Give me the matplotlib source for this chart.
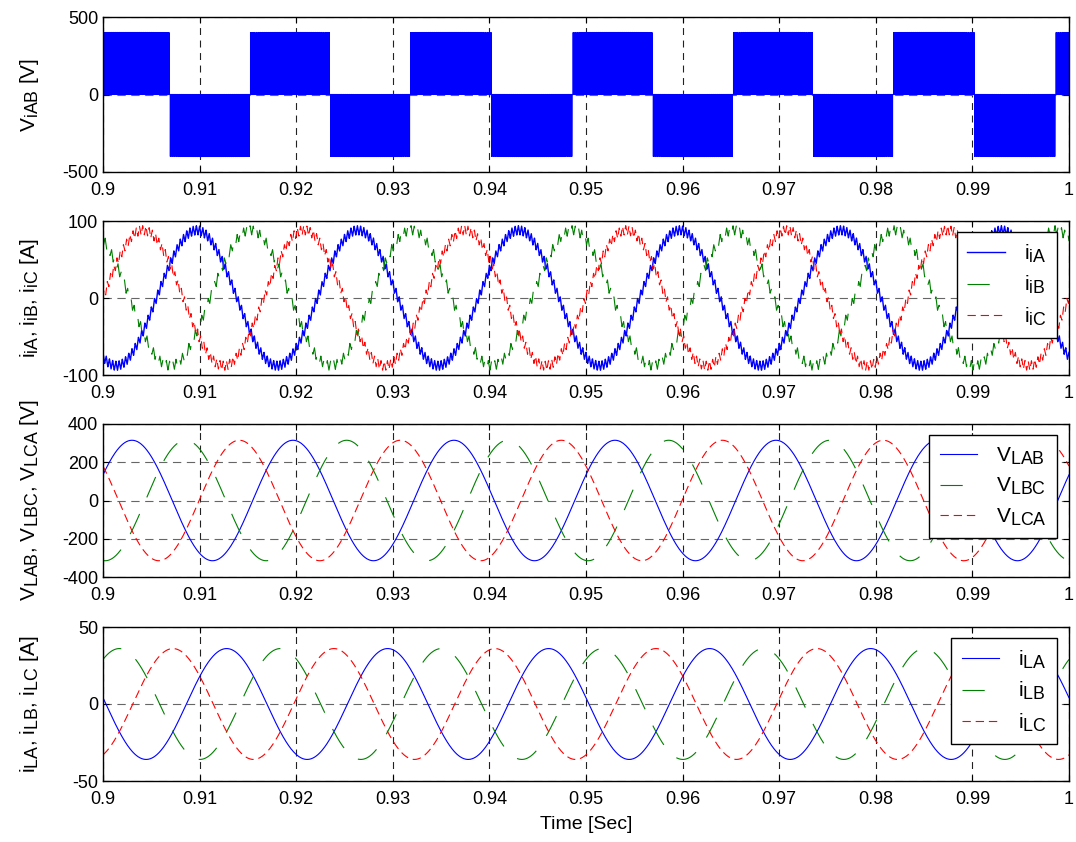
import matplotlib
matplotlib.use("Agg")
import matplotlib.pyplot as plt
import matplotlib._mathtext as mt
import numpy as np

plt.rcParams['font.family'] = ['Liberation Sans', 'DejaVu Sans']
plt.rcParams['mathtext.default'] = 'regular'
plt.rcParams['axes.unicode_minus'] = False
plt.rcParams['lines.scale_dashes'] = False
# MATLAB-like subscripts are only a little smaller than the main text
mt.SHRINK_FACTOR = 0.85

# waveform parameters
t_start, t_end = 0.9, 1.0
f_fund = 60.0            # Hz, 6 cycles in 0.1 s
phase_lag = [0.0, 120.0, 240.0]   # deg, phase A, B, C

V_dc = 400.0             # inverter line voltage pulse height
m_index = 0.9
f_carrier = 5000.0
vi_peak_time = 0.9027    # centre of positive V_iAB block

ii_amp = 88.0            # inverter current peak
ii_peak_time = 0.9097
ii_ripple = 6.0
f_ripple = 3000.0

vl_amp = 315.0           # load line voltage peak
vl_peak_time = 0.903

il_amp = 36.0            # load current peak
il_peak_time = 0.9128

xticks = [0.9, 0.91, 0.92, 0.93, 0.94, 0.95, 0.96, 0.97, 0.98, 0.99, 1.0]
xticklabels = ['0.9', '0.91', '0.92', '0.93', '0.94', '0.95', '0.96', '0.97', '0.98', '0.99', '1']

w = 2 * np.pi * f_fund


def tri(x):
    return 2 * np.abs(2 * (x % 1.0) - 1) - 1


# PWM inverter voltage
t_pwm = np.linspace(t_start, t_end, 200001)
carrier = tri(t_pwm * f_carrier)
th = w * (t_pwm - vi_peak_time) - np.pi / 6
sa = (m_index * np.cos(th) > carrier).astype(float)
sb = (m_index * np.cos(th - 2 * np.pi / 3) > carrier).astype(float)
v_iab = V_dc * (sa - sb)

t = np.linspace(t_start, t_end, 20001)
ii = []
vl = []
il = []
for k, lag in enumerate(phase_lag):
    ph = np.deg2rad(lag)
    ii.append(ii_amp * np.cos(w * (t - ii_peak_time) - ph)
              + ii_ripple * tri(t * f_ripple + k / 3.0))
    vl.append(vl_amp * np.cos(w * (t - vl_peak_time) - ph))
    il.append(il_amp * np.cos(w * (t - il_peak_time) - ph))

colors = ['blue', 'green', 'red']
styles = [dict(linestyle='-'),
          dict(linestyle=(0, (16, 13))),
          dict(linestyle=(0, (6, 3.5)))]

fig = plt.figure(figsize=(10.76, 8.42), dpi=100)
L, W = 103 / 1076, 966 / 1076
boxes = [(17, 172), (221, 375), (424, 577), (627, 781)]
axes = []
for top, bot in boxes:
    axes.append(fig.add_axes([L, (842 - bot) / 842, W, (bot - top) / 842]))


def style(ax, yt, ylab):
    ax.set_xlim(t_start, t_end)
    ax.set_xticks(xticks)
    ax.set_xticklabels(xticklabels)
    ax.set_yticks(yt)
    ax.set_ylim(yt[0], yt[-1])
    ax.tick_params(direction='in', top=True, right=True, labelsize=13,
                   length=4, width=0.8)
    ax.tick_params(axis='x', pad=7)
    ax.xaxis.grid(True, color='#222222', linestyle=(0, (5, 4)), linewidth=0.8)
    ax.yaxis.grid(True, color='#666666', linestyle=(0, (6, 4)), linewidth=0.8)
    for s in ax.spines.values():
        s.set_linewidth(1.0)
    ax.set_ylabel(ylab, fontsize=15)
    ax.yaxis.set_label_coords(-0.064, 0.5)


def add_legend(ax):
    ax.legend(loc='upper right', bbox_to_anchor=(1 - 12 / 966, 1 - 11 / 154),
              borderaxespad=0, fontsize=15, fancybox=False, edgecolor='black',
              framealpha=1, handlelength=1.8, handletextpad=0.9,
              labelspacing=0.45, borderpad=0.5)


ax = axes[0]
ax.plot(t_pwm, v_iab, color='blue', linewidth=0.8)
style(ax, [-500, 0, 500], 'V$_{iAB}$ [V]')

ax = axes[1]
labs = ['i$_{iA}$', 'i$_{iB}$', 'i$_{iC}$']
widths = [1.0, 0.8, 0.8]
for y, c, s, lb, lw in zip(ii, colors, styles, labs, widths):
    ax.plot(t, y, color=c, linewidth=lw, label=lb, **s)
style(ax, [-100, 0, 100], 'i$_{iA}$, i$_{iB}$, i$_{iC}$ [A]')
add_legend(ax)

ax = axes[2]
labs = ['V$_{LAB}$', 'V$_{LBC}$', 'V$_{LCA}$']
for y, c, s, lb in zip(vl, colors, styles, labs):
    ax.plot(t, y, color=c, linewidth=0.8, label=lb, **s)
style(ax, [-400, -200, 0, 200, 400], 'V$_{LAB}$, V$_{LBC}$, V$_{LCA}$ [V]')
add_legend(ax)

ax = axes[3]
labs = ['i$_{LA}$', 'i$_{LB}$', 'i$_{LC}$']
for y, c, s, lb in zip(il, colors, styles, labs):
    ax.plot(t, y, color=c, linewidth=0.8, label=lb, **s)
style(ax, [-50, 0, 50], 'i$_{LA}$, i$_{LB}$, i$_{LC}$ [A]')
ax.set_xlabel('Time [Sec]', fontsize=14, labelpad=6)
add_legend(ax)

fig.savefig('out.png', dpi=100)
